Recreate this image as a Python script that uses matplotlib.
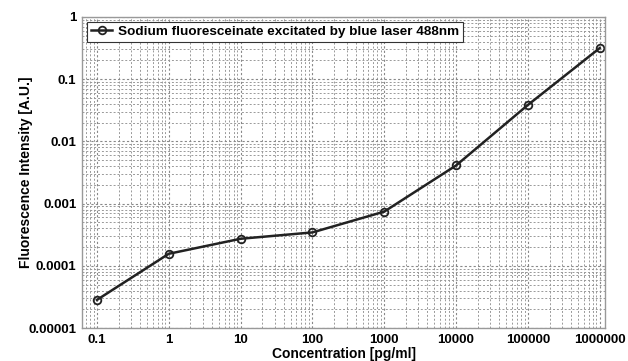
import matplotlib
matplotlib.use("Agg")
import matplotlib.pyplot as plt
from matplotlib.ticker import LogLocator, FixedLocator, FixedFormatter, NullFormatter

plt.rcParams['font.family'] = ['Liberation Sans', 'DejaVu Sans']
plt.rcParams['font.weight'] = 'bold'

concentration = [0.1, 1, 10, 100, 1000, 10000, 100000, 1000000]
intensity = [2.83e-5, 1.56e-4, 2.72e-4, 3.44e-4, 7.43e-4, 4.1e-3, 3.85e-2, 0.316]
x_tick_labels = ['0.1', '1', '10', '100', '1000', '10000', '100000', '1000000']
y_ticks = [1e-5, 1e-4, 1e-3, 1e-2, 1e-1, 1]
y_tick_labels = ['0.00001', '0.0001', '0.001', '0.01', '0.1', '1']
series_label = 'Sodium fluoresceinate excitated by blue laser 488nm'

fig = plt.figure(figsize=(6.28, 3.61), dpi=100)
ax = fig.add_axes([0.1306, 0.0914, 0.8334, 0.8616])

ax.plot(concentration, intensity, color='#222222', lw=1.8, marker='o', ms=5.5,
        mfc='none', mec='#222222', mew=1.3, label=series_label)
ax.set_xscale('log')
ax.set_yscale('log')
ax.set_xlim(0.062, 1.2e6)
ax.set_ylim(1e-5, 1)

ax.xaxis.set_major_locator(FixedLocator(concentration))
ax.xaxis.set_major_formatter(FixedFormatter(x_tick_labels))
ax.xaxis.set_minor_locator(LogLocator(base=10, subs=range(2, 10), numticks=20))
ax.xaxis.set_minor_formatter(NullFormatter())
ax.yaxis.set_major_locator(FixedLocator(y_ticks))
ax.yaxis.set_major_formatter(FixedFormatter(y_tick_labels))
ax.yaxis.set_minor_locator(LogLocator(base=10, subs=range(2, 10), numticks=20))
ax.yaxis.set_minor_formatter(NullFormatter())

ax.grid(True, which='major', ls=(0, (2, 2)), color='#888888', lw=0.8)
ax.grid(True, which='minor', ls=(0, (2, 2)), color='#999999', lw=0.7)
ax.tick_params(which='both', direction='in', length=0, labelsize=9.5, pad=4)
for s in ax.spines.values():
    s.set_color('#999999')
    s.set_linewidth(1.0)

ax.set_xlabel('Concentration [pg/ml]', fontsize=10, fontweight='bold', labelpad=1)
ax.set_ylabel('Fluorescence Intensity [A.U.]', fontsize=10, fontweight='bold', labelpad=-3)

leg = ax.legend(loc='upper left', prop={'weight': 'bold', 'size': 9.7},
                frameon=True, fancybox=False, borderpad=0.3, handlelength=1.6,
                handletextpad=0.4, borderaxespad=0.35)
leg.get_frame().set_edgecolor('#333333')
leg.get_frame().set_linewidth(0.8)
leg.get_frame().set_alpha(1)

fig.savefig('out.png', dpi=100)
